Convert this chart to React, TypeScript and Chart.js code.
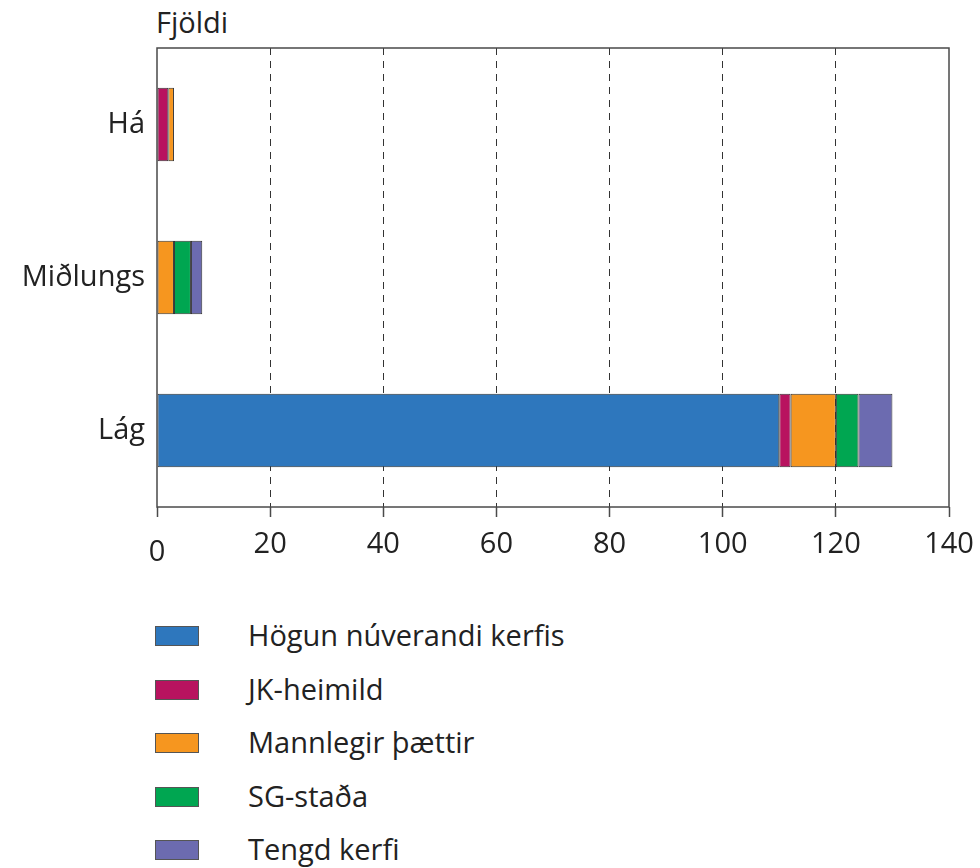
import React, { useEffect, useRef } from "react";
import { Chart, registerables } from "chart.js";

Chart.register(...registerables);

const categories = ["Há", "Miðlungs", "Lág"];
const seriesNames = ["Högun núverandi kerfis", "JK-heimild", "Mannlegir þættir", "SG-staða", "Tengd kerfi"];
const hogun = [null, null, 110];
const jk = [2, null, 2];
const mannlegir = [1, 3, 8];
const sg = [null, 3, 4];
const tengd = [null, 2, 6];
const seriesColors = ["#2e77bd", "#b8135f", "#f6961f", "#00a651", "#6c6bb0"];
const xTicks = [0, 20, 40, 60, 80, 100, 120, 140];
const axisTitle = "Fjöldi";

const FONT = "'Open Sans', 'DejaVu Sans', sans-serif";
const FS = 29;

const boxPlugin = {
  id: "boxPlugin",
  afterDraw(chart: any) {
    const { ctx, chartArea } = chart;
    ctx.save();
    ctx.strokeStyle = "#4a4a4a";
    ctx.lineWidth = 1.5;
    ctx.setLineDash([]);
    ctx.strokeRect(chartArea.left, chartArea.top, chartArea.right - chartArea.left, chartArea.bottom - chartArea.top);
    ctx.restore();
  },
};

export default function App() {
  const ref = useRef<HTMLCanvasElement | null>(null);

  useEffect(() => {
    document.body.style.margin = "0";
    const values = [hogun, jk, mannlegir, sg, tengd];
    const chart = new Chart(ref.current as HTMLCanvasElement, {
      type: "bar",
      data: {
        labels: categories,
        datasets: values.map((d, i) => ({
          label: seriesNames[i],
          data: d as any,
          backgroundColor: seriesColors[i],
          borderColor: "#333",
          borderWidth: 1,
          borderSkipped: false,
          barPercentage: 0.96,
          categoryPercentage: 0.5,
        })),
      },
      options: {
        indexAxis: "y",
        animation: false,
        responsive: false,
        maintainAspectRatio: false,
        layout: { padding: { left: 0, top: 48, right: 31, bottom: 0 } },
        plugins: { legend: { display: false }, tooltip: { enabled: false } },
        scales: {
          x: {
            stacked: true,
            min: 0,
            max: 140,
            afterBuildTicks(scale: any) {
              scale.ticks = xTicks.map((v) => ({ value: v }));
            },
            afterFit(scale: any) {
              scale.height = 83;
              scale.paddingLeft = 0;
              scale.paddingRight = 0;
            },
            ticks: {
              color: "#222",
              font: (c: any) =>
                c.tick && c.tick.value === 0
                  ? { family: FONT, size: FS, lineHeight: 1.75 }
                  : { family: FONT, size: FS, lineHeight: 1.2 },
              padding: 10,
              maxRotation: 0,
            },
            grid: {
              color: (c: any) => (c.tick && (c.tick.value === 0 || c.tick.value === 140) ? "rgba(0,0,0,0)" : "#333"),
              tickColor: "#4a4a4a",
              tickLength: 10,
              tickWidth: 1.5,
              lineWidth: 1,
            },
            border: { display: false, dash: [7, 6] },
          },
          y: {
            stacked: true,
            afterFit(scale: any) {
              scale.width = 157;
            },
            ticks: {
              color: "#222",
              font: { family: FONT, size: FS },
              padding: 12,
            },
            grid: { display: false, drawTicks: false },
            border: { display: false },
          },
        },
      },
      plugins: [boxPlugin],
    });
    return () => chart.destroy();
  }, []);

  return (
    <div style={{ position: "relative", width: 980, height: 868, background: "#fff", fontFamily: FONT, color: "#222" }}>
      <div style={{ position: "absolute", left: 156, top: 4, fontSize: FS, lineHeight: "36px" }}>{axisTitle}</div>
      <canvas ref={ref} width={980} height={590} style={{ position: "absolute", left: 0, top: 0, width: 980, height: 590 }} />
      <div style={{ position: "absolute", left: 0, top: 610 }}>
        {seriesNames.map((n, i) => (
          <div key={n} style={{ position: "absolute", left: 0, top: i * 53.5, height: 52, width: 700 }}>
            <div
              style={{
                position: "absolute",
                left: 155,
                top: 16,
                width: 44,
                height: 20,
                background: seriesColors[i],
                border: "1px solid #555",
                boxSizing: "border-box",
              }}
            />
            <div style={{ position: "absolute", left: 248, top: 7, fontSize: FS, lineHeight: "36px", whiteSpace: "nowrap" }}>{n}</div>
          </div>
        ))}
      </div>
    </div>
  );
}
